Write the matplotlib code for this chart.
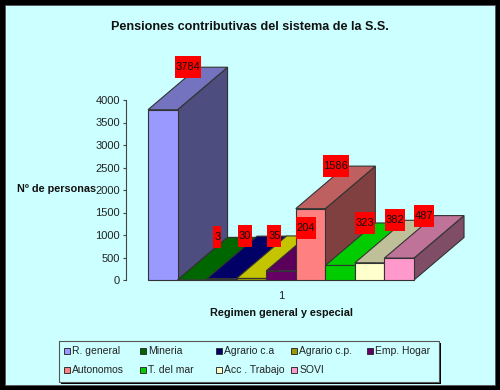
import matplotlib
matplotlib.use('Agg')
import matplotlib.pyplot as plt
from matplotlib.patches import Rectangle, Polygon
from matplotlib.transforms import IdentityTransform

categories = ['R. general', 'Mineria', 'Agrario c.a', 'Agrario c.p.', 'Emp. Hogar',
              'Autonomos', 'T. del mar', 'Acc . Trabajo', 'SOVI']
values = [3784, 3, 30, 35, 204, 1586, 323, 382, 487]
y_ticks = [0, 500, 1000, 1500, 2000, 2500, 3000, 3500, 4000]

front_colors = ['#9999FF', '#006600', '#000066', '#999900', '#660066',
                '#FF8080', '#00CC00', '#FFFFCC', '#FF99CC']
top_colors = ['#7373BF', '#006600', '#000066', '#C4C400', '#5A005A',
              '#BF6060', '#00CC00', '#BFBF99', '#BF7399']
side_colors = ['#4D4D80', '#003300', '#000033', '#666600', '#330033',
               '#804040', '#006600', '#808066', '#804D66']

W, H = 500, 390
CYAN = '#CCFFFF'
EDGE = '#333333'
TEXT = '#222222'
FONT = 'Liberation Sans'
# глубина 3d-эффекта в единицах осей
DEPTH_X = 50 / 29.55
DEPTH_Y = 42.5 / 45 * 1000

plt.rcParams['font.family'] = [FONT, 'DejaVu Sans']


def fx(x):
    return x / W


def fy(y):
    return 1 - y / H


def add_rect(fig, x0, y0, x1, y1, **kw):
    # прямоугольник в пикселях картинки (y сверху вниз)
    fig.add_artist(Rectangle((fx(x0), fy(y1)), fx(x1 - x0), (y1 - y0) / H,
                             transform=fig.transFigure, **kw))


fig = plt.figure(figsize=(W / 100, H / 100), dpi=100, facecolor='black')
add_rect(fig, 4.5, 5, 495, 385, facecolor=CYAN, edgecolor='#555555', linewidth=0.6, zorder=-1)

ax = fig.add_axes([fx(148), fy(280), fx(414 - 148), (280 - 100) / H])
ax.patch.set_alpha(0)
ax.set_xlim(0, len(values))
ax.set_ylim(0, 4000)

# столбцы слева направо, правый перекрывает боковую грань левого
for i, v in enumerate(values):
    x0, x1 = i, i + 1
    side = [(x1, 0), (x1 + DEPTH_X, DEPTH_Y), (x1 + DEPTH_X, v + DEPTH_Y), (x1, v)]
    top = [(x0, v), (x0 + DEPTH_X, v + DEPTH_Y), (x1 + DEPTH_X, v + DEPTH_Y), (x1, v)]
    front = [(x0, 0), (x0, v), (x1, v), (x1, 0)]
    for pts, col in ((side, side_colors[i]), (top, top_colors[i]), (front, front_colors[i])):
        ax.add_patch(Polygon(pts, closed=True, facecolor=col, edgecolor=EDGE,
                             linewidth=0.8, clip_on=False))

for name in ('top', 'right', 'bottom'):
    ax.spines[name].set_visible(False)
ax.spines['left'].set_position(('outward', 15.8))
ax.spines['left'].set_color('#444444')
ax.set_yticks(y_ticks)
ax.set_xticks([len(values) / 2])
ax.set_xticklabels(['1'])
ax.tick_params(axis='y', length=2.5, width=0.8, pad=2, labelsize=8, color='#444444', labelcolor=TEXT)
ax.tick_params(axis='x', length=0, pad=8, labelsize=8, labelcolor=TEXT)

# подписи значений на красных плашках
nudge = {2: -2, 3: -2}
for i, v in enumerate(values):
    px, py = ax.transData.transform((i + 0.5 + DEPTH_X / 2, v + DEPTH_Y))
    px += nudge.get(i, 0)
    w = 2 + 6 * len(str(v))
    fig.add_artist(Rectangle((px - w / 2, py - 11), w, 22, transform=IdentityTransform(),
                             facecolor='#FF0000', edgecolor='none', zorder=5))
    fig.text(fx(px), py / H, str(v), ha='center', va='center', fontsize=8,
             color='#111111', zorder=6)

fig.text(fx(249.5), fy(27), 'Pensiones contributivas del sistema de la S.S.', ha='center', va='center',
         fontsize=9.1, fontweight='bold', color='#111111')
fig.text(fx(17), fy(189), 'Nº de personas', ha='left', va='center', fontsize=7.8,
         fontweight='bold', color='#111111')
fig.text(fx(281), fy(313), 'Regimen general y especial', ha='center', va='center', fontsize=7.85,
         fontweight='bold', color='#111111')

# легенда
add_rect(fig, 61, 343, 441, 384, facecolor='black', edgecolor='none')
add_rect(fig, 59, 341, 439, 382, facecolor=CYAN, edgecolor='#555555', linewidth=0.8)
for i, name in enumerate(categories):
    col, row = i % 5, i // 5
    x = 64 + 75.8 * col
    y = 351 + 19 * row
    add_rect(fig, x, y - 3, x + 6, y + 3, facecolor=front_colors[i], edgecolor=EDGE, linewidth=0.7)
    fig.text(fx(x + 8), fy(y), name, ha='left', va='center', fontsize=7.5, color=TEXT)

fig.savefig('out.png', dpi=100, facecolor='black')
